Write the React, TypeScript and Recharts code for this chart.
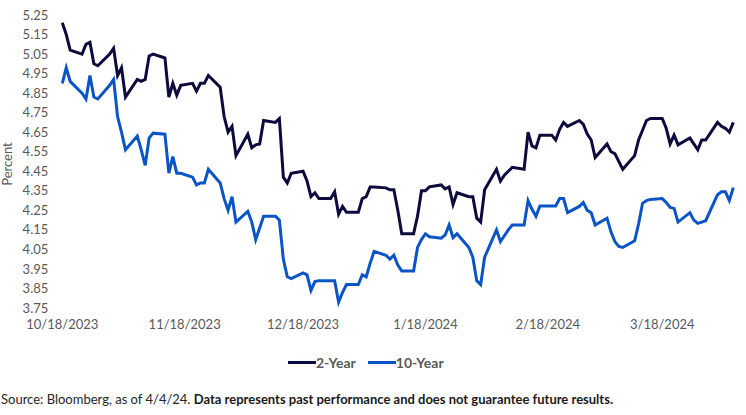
import React from 'react';
import { LineChart, Line, XAxis, YAxis } from 'recharts';

const dates = [
  '2023-10-18','2023-10-19','2023-10-20','2023-10-23','2023-10-24','2023-10-25','2023-10-26','2023-10-27','2023-10-30','2023-10-31',
  '2023-11-01','2023-11-02','2023-11-03','2023-11-06','2023-11-07','2023-11-08','2023-11-09','2023-11-10','2023-11-13','2023-11-14',
  '2023-11-15','2023-11-16','2023-11-17','2023-11-20','2023-11-21','2023-11-22','2023-11-23','2023-11-24','2023-11-27','2023-11-28',
  '2023-11-29','2023-11-30',
  '2023-12-01','2023-12-04','2023-12-05','2023-12-06','2023-12-07','2023-12-08','2023-12-11','2023-12-12','2023-12-13','2023-12-14',
  '2023-12-15','2023-12-18','2023-12-19','2023-12-20','2023-12-21','2023-12-22','2023-12-25','2023-12-26','2023-12-27','2023-12-28',
  '2023-12-29',
  '2024-01-01','2024-01-02','2024-01-03','2024-01-04','2024-01-05','2024-01-08','2024-01-09','2024-01-10','2024-01-11','2024-01-12',
  '2024-01-15','2024-01-16','2024-01-17','2024-01-18','2024-01-19','2024-01-22','2024-01-23','2024-01-24','2024-01-25','2024-01-26',
  '2024-01-29','2024-01-30','2024-01-31',
  '2024-02-01','2024-02-02','2024-02-05','2024-02-06','2024-02-07','2024-02-08','2024-02-09','2024-02-12','2024-02-13','2024-02-14',
  '2024-02-15','2024-02-16','2024-02-19','2024-02-20','2024-02-21','2024-02-22','2024-02-23','2024-02-26','2024-02-27','2024-02-28',
  '2024-02-29',
  '2024-03-01','2024-03-04','2024-03-05','2024-03-06','2024-03-07','2024-03-08','2024-03-11','2024-03-12','2024-03-13','2024-03-14',
  '2024-03-15','2024-03-18','2024-03-19','2024-03-20','2024-03-21','2024-03-22','2024-03-25','2024-03-26','2024-03-27','2024-03-28',
  '2024-03-29',
  '2024-04-01','2024-04-02','2024-04-03','2024-04-04','2024-04-05',
];

const twoYear = [
  5.21,5.15,5.07,5.05,5.10,5.11,5.00,4.99,5.05,5.08,
  4.94,4.98,4.83,4.92,4.91,4.92,5.04,5.05,5.03,4.83,
  4.90,4.84,4.89,4.90,4.86,4.90,4.90,4.94,4.88,4.73,
  4.65,4.68,
  4.53,4.64,4.57,4.585,4.59,4.71,4.70,4.72,4.42,4.39,
  4.44,4.45,4.40,4.32,4.34,4.31,4.31,4.345,4.23,4.27,
  4.24,
  4.24,4.31,4.32,4.37,4.37,4.365,4.355,4.355,4.25,4.13,
  4.13,4.22,4.35,4.35,4.37,4.38,4.36,4.37,4.28,4.34,
  4.32,4.32,4.21,
  4.19,4.355,4.46,4.40,4.43,4.45,4.47,4.46,4.65,4.58,
  4.57,4.635,4.635,4.61,4.665,4.70,4.68,4.71,4.69,4.64,
  4.61,
  4.52,4.59,4.55,4.54,4.50,4.46,4.53,4.61,4.66,4.71,
  4.72,4.72,4.67,4.59,4.635,4.585,4.62,4.59,4.56,4.61,
  4.61,
  4.70,4.68,4.67,4.65,4.70,
];

const tenYear = [
  4.90,4.98,4.91,4.85,4.82,4.94,4.83,4.82,4.89,4.92,
  4.73,4.65,4.56,4.63,4.56,4.48,4.62,4.645,4.64,4.44,
  4.525,4.44,4.44,4.42,4.38,4.39,4.39,4.46,4.39,4.31,
  4.25,4.32,
  4.19,4.245,4.19,4.10,4.16,4.22,4.22,4.20,4.00,3.91,
  3.90,3.93,3.92,3.84,3.885,3.89,3.89,3.89,3.78,3.83,
  3.87,
  3.87,3.92,3.91,3.98,4.04,4.02,4.00,4.02,3.97,3.94,
  3.94,4.06,4.10,4.13,4.115,4.107,4.124,4.175,4.11,4.13,
  4.06,4.01,3.89,
  3.87,4.01,4.15,4.09,4.12,4.15,4.175,4.175,4.30,4.255,
  4.22,4.272,4.272,4.272,4.31,4.31,4.238,4.27,4.29,4.25,
  4.238,
  4.175,4.21,4.14,4.09,4.065,4.06,4.094,4.18,4.286,4.30,
  4.306,4.31,4.29,4.265,4.26,4.19,4.238,4.20,4.183,4.19,
  4.197,
  4.33,4.345,4.345,4.30,4.366,
];

const xTickDates = ['2023-10-18','2023-11-18','2023-12-18','2024-01-18','2024-02-18','2024-03-18'];
const yTicks = [3.75,3.85,3.95,4.05,4.15,4.25,4.35,4.45,4.55,4.65,4.75,4.85,4.95,5.05,5.15,5.25];
const seriesNames = ['2-Year', '10-Year'];
const seriesColors = ['#0d0b3d', '#0a55c6'];
const footerSource = 'Source: Bloomberg, as of 4/4/24. ';
const footerNote = 'Data represents past performance and does not guarantee future results.';
const yLabel = 'Percent';

const DAY = 86400000;
const t0 = Date.parse(dates[0] + 'T00:00:00Z');
const toDay = (iso: string) => Math.round((Date.parse(iso + 'T00:00:00Z') - t0) / DAY);
const fmtDate = (day: number) => {
  const d = new Date(t0 + day * DAY);
  return `${d.getUTCMonth() + 1}/${d.getUTCDate()}/${d.getUTCFullYear()}`;
};

const data = dates.map((iso, i) => ({ day: toDay(iso), y2: twoYear[i], y10: tenYear[i] }));
const xTicks = xTickDates.map(toDay);
const lastDay = toDay(dates[dates.length - 1]);

const FONT = 'Lato, "Noto Sans", sans-serif';
const tickStyle = { fill: '#595959', fontSize: 13, fontFamily: FONT };

export default function App() {
  return (
    <div style={{ position: 'absolute', left: 0, top: 0, width: 746, height: 415, background: '#fff', fontFamily: FONT, overflow: 'hidden' }}>
      <LineChart width={746} height={332} data={data} margin={{ top: 15, right: 12.7, left: 0, bottom: 0 }}>
        <XAxis
          dataKey="day"
          type="number"
          domain={[0, lastDay]}
          ticks={xTicks}
          tickFormatter={fmtDate}
          axisLine={false}
          tickLine={false}
          tickSize={0}
          tickMargin={12}
          height={24}
          tick={tickStyle}
          interval={0}
        />
        <YAxis
          type="number"
          domain={[3.75, 5.25]}
          ticks={yTicks}
          tickFormatter={(v: number) => v.toFixed(2)}
          axisLine={false}
          tickLine={false}
          tickSize={0}
          tickMargin={14}
          width={62.3}
          tick={tickStyle}
          interval={0}
        />
        <Line type="linear" dataKey="y2" name={seriesNames[0]} stroke={seriesColors[0]} strokeWidth={3} dot={false} isAnimationActive={false} />
        <Line type="linear" dataKey="y10" name={seriesNames[1]} stroke={seriesColors[1]} strokeWidth={3} dot={false} isAnimationActive={false} />
      </LineChart>
      <div style={{ position: 'absolute', left: 7, top: 164, transform: 'translate(-50%, -50%) rotate(-90deg)', color: '#595959', fontSize: 13, whiteSpace: 'nowrap' }}>
        {yLabel}
      </div>
      <div style={{ position: 'absolute', left: 288, top: 354, display: 'flex', alignItems: 'center', height: 16 }}>
        {seriesNames.map((n, i) => (
          <div key={n} style={{ display: 'flex', alignItems: 'center', marginRight: 12 }}>
            <div style={{ width: 28, height: 3, background: seriesColors[i] }} />
            <span style={{ color: '#595959', fontWeight: 700, fontSize: 14 }}>{n}</span>
          </div>
        ))}
      </div>
      <div style={{ position: 'absolute', left: 1, top: 391, fontSize: 13, color: '#262626', whiteSpace: 'nowrap' }}>
        <span>{footerSource}</span>
        <span style={{ fontWeight: 700, color: '#1a1a1a' }}>{footerNote}</span>
      </div>
    </div>
  );
}
